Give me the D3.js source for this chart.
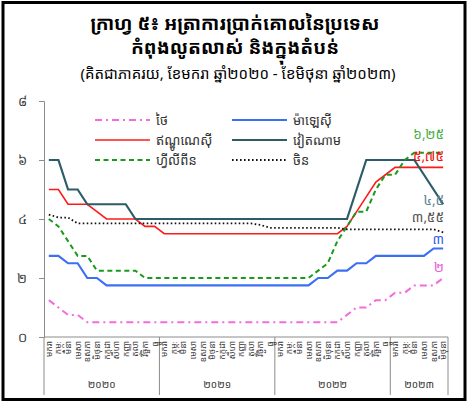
<!DOCTYPE html>
<html>
<head>
<meta charset="utf-8">
<script src="https://cdn.jsdelivr.net/npm/d3@7"></script>
<style>
  body { margin: 0; background: #fff; }
  svg { display: block; font-family: "Noto Sans Khmer", "Khmer OS", "Noto Sans", "DejaVu Sans", sans-serif; }
</style>
</head>
<body>
<div id="root"></div>
<script>
const W = 468, H = 409;

// Jan 2020 .. Jun 2023, monthly
const monthNames = ["មករា", "កុម្ភៈ", "មីនា", "មេសា", "ឧសភា", "មិថុនា", "កក្កដា", "សីហា", "កញ្ញា", "តុលា", "វិច្ឆិកា", "ធ្នូ"];
const years = ["២០២០", "២០២១", "២០២២", "២០២៣"];
const monthsPerYear = [12, 12, 12, 6];
const yTicks = [0, 2, 4, 6, 8];
const yTickLabels = ["០", "២", "៤", "៦", "៨"];

const thailand = [1.25, 1.0, 0.75, 0.75,
  0.5, 0.5, 0.5, 0.5, 0.5, 0.5, 0.5, 0.5, 0.5, 0.5, 0.5, 0.5, 0.5, 0.5, 0.5, 0.5, 0.5, 0.5, 0.5, 0.5, 0.5, 0.5, 0.5, 0.5, 0.5, 0.5, 0.5,
  0.75, 1.0, 1.0, 1.25, 1.25, 1.5, 1.5, 1.75, 1.75, 1.75, 2.0];
const malaysia = [2.75, 2.75, 2.5, 2.5, 2.0, 2.0,
  1.75, 1.75, 1.75, 1.75, 1.75, 1.75, 1.75, 1.75, 1.75, 1.75, 1.75, 1.75, 1.75, 1.75, 1.75, 1.75, 1.75, 1.75, 1.75, 1.75, 1.75, 1.75,
  2.0, 2.0, 2.25, 2.25, 2.5, 2.5, 2.75, 2.75, 2.75, 2.75, 2.75, 2.75, 3.0, 3.0];
const indonesia = [5.0, 5.0, 4.5, 4.5, 4.5, 4.25, 4.0, 4.0, 4.0, 4.0, 3.75, 3.75,
  3.5, 3.5, 3.5, 3.5, 3.5, 3.5, 3.5, 3.5, 3.5, 3.5, 3.5, 3.5, 3.5, 3.5, 3.5, 3.5, 3.5, 3.5, 3.5,
  3.75, 4.25, 4.75, 5.25, 5.5, 5.75, 5.75, 5.75, 5.75, 5.75, 5.75];
const vietnam = [6.0, 6.0, 5.0, 5.0, 4.5, 4.5, 4.5, 4.5, 4.5,
  4.0, 4.0, 4.0, 4.0, 4.0, 4.0, 4.0, 4.0, 4.0, 4.0, 4.0, 4.0, 4.0, 4.0, 4.0, 4.0, 4.0, 4.0, 4.0, 4.0, 4.0, 4.0, 4.0,
  5.0, 6.0, 6.0, 6.0, 6.0, 6.0, 6.0, 5.5, 5.0, 4.5];
const philippines = [4.0, 3.75, 3.25, 2.75, 2.75, 2.25, 2.25, 2.25, 2.25, 2.25,
  2.0, 2.0, 2.0, 2.0, 2.0, 2.0, 2.0, 2.0, 2.0, 2.0, 2.0, 2.0, 2.0, 2.0, 2.0, 2.0, 2.0, 2.0,
  2.25, 2.5, 3.25, 3.75, 4.25, 4.25, 5.0, 5.5, 5.5, 6.0, 6.25, 6.25, 6.25, 6.25];
const china = [4.15, 4.05, 4.05,
  3.85, 3.85, 3.85, 3.85, 3.85, 3.85, 3.85, 3.85, 3.85, 3.85, 3.85, 3.85, 3.85, 3.85, 3.85, 3.85, 3.85, 3.85, 3.85,
  3.80, 3.70, 3.70, 3.70, 3.70, 3.70, 3.70, 3.70, 3.70,
  3.65, 3.65, 3.65, 3.65, 3.65, 3.65, 3.65, 3.65, 3.65, 3.65, 3.55];

const endLabels = ["២", "៣", "៥,៧៥", "៤,៥", "៦,២៥", "៣,៥៥"];

const series = [
  {name: "ថៃ", values: thailand, color: "#f26ddb", width: 2, dash: "7,4,2,4", label: endLabels[0], labelColor: "#e85fd6", dy: -6},
  {name: "ម៉ាឡេស៊ី", values: malaysia, color: "#3d6ff5", width: 2.2, dash: null, label: endLabels[1], labelColor: "#2f5fe8", dy: -5},
  {name: "ឥណ្ឌូណេស៊ី", values: indonesia, color: "#ff1a1a", width: 1.6, dash: null, label: endLabels[2], labelColor: "#f01010", dy: -6},
  {name: "វៀតណាម", values: vietnam, color: "#2d5c68", width: 2.2, dash: null, label: endLabels[3], labelColor: "#5b8290", dy: 1},
  {name: "ហ្វីលីពីន", values: philippines, color: "#1a9a1a", width: 2, dash: "5,3.5", label: endLabels[4], labelColor: "#45b045", dy: -14},
  {name: "ចិន", values: china, color: "#111", width: 1.8, dash: "1.6,2.4", label: endLabels[5], labelColor: "#555", dy: -10}
];

const svg = d3.select("#root").append("svg")
  .attr("width", W)
  .attr("height", H);

// frame
svg.append("rect")
  .attr("x", 3).attr("y", 2.5)
  .attr("width", 462).attr("height", 397)
  .attr("fill", "none")
  .attr("stroke", "#000")
  .attr("stroke-width", 3);

// title
svg.append("text").attr("x", 235).attr("y", 30)
  .attr("text-anchor", "middle").attr("font-size", 19).attr("font-weight", "bold")
  .text("ក្រាហ្វ ៥៖ អត្រាការប្រាក់គោលនៃប្រទេស");
svg.append("text").attr("x", 235).attr("y", 54)
  .attr("text-anchor", "middle").attr("font-size", 19).attr("font-weight", "bold")
  .text("កំពុងលូតលាស់ និងក្នុងតំបន់");
svg.append("text").attr("x", 238).attr("y", 79)
  .attr("text-anchor", "middle").attr("font-size", 15)
  .text("(គិតជាភាគរយ, ខែមករា ឆ្នាំ២០២០ - ខែមិថុនា ឆ្នាំ២០២៣)");

const plotLeft = 44, plotRight = 448, plotTop = 101, plotBottom = 337;
const n = thailand.length;

const x = d3.scaleBand()
  .domain(d3.range(n))
  .range([plotLeft, plotRight])
  .padding(0);
const cx = i => x(i) + x.bandwidth() / 2;

const y = d3.scaleLinear()
  .domain([0, 8])
  .range([plotBottom, plotTop]);

// y axis
const yAxis = svg.append("g")
  .attr("transform", "translate(" + plotLeft + ",0)")
  .call(d3.axisLeft(y).tickValues(yTicks).tickSize(5).tickFormat((d, i) => yTickLabels[i]));
yAxis.selectAll("path, line").attr("stroke", "#8c8c8c");
yAxis.selectAll("text").attr("font-size", 13).attr("fill", "#333").attr("x", -17);

// x axis
const g = svg.append("g");
g.append("line")
  .attr("x1", plotLeft).attr("x2", plotRight)
  .attr("y1", plotBottom).attr("y2", plotBottom)
  .attr("stroke", "#8c8c8c");

let start = 0;
const yearStarts = [];
monthsPerYear.forEach(m => {
  yearStarts.push(start);
  start += m;
});

// year separators
const sepIdx = yearStarts.concat([n]);
g.selectAll(".sep")
  .data(sepIdx)
  .enter().append("line")
  .attr("class", "sep")
  .attr("x1", d => d < n ? x(d) : plotRight)
  .attr("x2", d => d < n ? x(d) : plotRight)
  .attr("y1", plotBottom).attr("y2", 395)
  .attr("stroke", "#8c8c8c");

// month labels
const monthLabels = d3.range(n).map(i => monthNames[i % 12]);
g.selectAll(".mlab")
  .data(monthLabels)
  .enter().append("text")
  .attr("class", "mlab")
  .attr("transform", (d, i) => "translate(" + (cx(i) + 3) + "," + (plotBottom + 4) + ") rotate(-90)")
  .attr("text-anchor", "end")
  .attr("font-size", 8.5)
  .attr("fill", "#333")
  .text(d => d);

// year labels
g.selectAll(".ylab")
  .data(years)
  .enter().append("text")
  .attr("class", "ylab")
  .attr("x", (d, k) => (x(yearStarts[k]) + (k < 3 ? x(yearStarts[k + 1]) : plotRight)) / 2)
  .attr("y", 388)
  .attr("text-anchor", "middle")
  .attr("font-size", 10)
  .attr("fill", "#333")
  .text(d => d);

// lines
const line = d3.line()
  .x((d, i) => cx(i))
  .y(d => y(d));

svg.selectAll(".series")
  .data(series)
  .enter().append("path")
  .attr("class", "series")
  .attr("d", d => line(d.values))
  .attr("fill", "none")
  .attr("stroke", d => d.color)
  .attr("stroke-width", d => d.width)
  .attr("stroke-dasharray", d => d.dash);

// end labels
svg.selectAll(".endlab")
  .data(series)
  .enter().append("text")
  .attr("class", "endlab")
  .attr("x", 444)
  .attr("y", d => y(d.values[n - 1]) + d.dy)
  .attr("text-anchor", "end")
  .attr("font-size", 13.5)
  .attr("fill", d => d.labelColor)
  .text(d => d.label);

// legend
const legend = svg.selectAll(".legend")
  .data(series)
  .enter().append("g")
  .attr("class", "legend")
  .attr("transform", (d, i) => "translate(" + (i % 2 === 0 ? 95 : 232) + "," + (120 + Math.floor(i / 2) * 20) + ")");

legend.append("line")
  .attr("x1", 0).attr("x2", 55)
  .attr("stroke", d => d.color)
  .attr("stroke-width", d => d.width)
  .attr("stroke-dasharray", d => d.dash);

legend.append("text")
  .attr("x", 61)
  .attr("y", 4.5)
  .attr("font-size", 13)
  .attr("fill", "#333")
  .text(d => d.name);

// source line, cut by the bottom edge
svg.append("text")
  .attr("x", 100).attr("y", 420)
  .attr("font-size", 12).attr("fill", "#aaa")
  .text("ប្រភព៖ ធនាគារកណ្តាលនៃប្រទេសនីមួយៗ");
</script>
</body>
</html>
